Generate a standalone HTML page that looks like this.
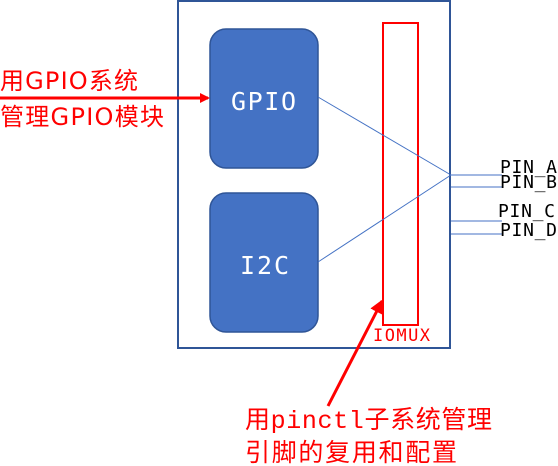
<!DOCTYPE html>
<html><head><meta charset="utf-8"><style>
html,body{margin:0;padding:0;background:#fff;width:558px;height:466px;overflow:hidden}
svg{display:block}
</style></head><body>
<svg width="558" height="466" xmlns="http://www.w3.org/2000/svg">
<defs>
<marker id="ah" markerWidth="10" markerHeight="10" refX="8" refY="5" orient="auto" markerUnits="userSpaceOnUse">
<path d="M0,0 L10,5 L0,10 z" fill="#ff0000"/></marker>
<marker id="ah2" markerWidth="14" markerHeight="14" refX="12" refY="7" orient="auto" markerUnits="userSpaceOnUse">
<path d="M0,0 L14,7 L0,14 z" fill="#ff0000"/></marker>
</defs>
<rect x="178" y="1" width="272" height="347" fill="#fff" stroke="#2F5597" stroke-width="2"/>
<rect x="210" y="29" width="108" height="139" rx="16" fill="#4472C4" stroke="#2F5597" stroke-width="1.5"/>
<rect x="210" y="193" width="108" height="139" rx="16" fill="#4472C4" stroke="#2F5597" stroke-width="1.5"/>
<text x="231" y="110" fill="#fff" font-family="DejaVu Sans Mono, Liberation Mono, monospace" font-size="25" textLength="65">GPIO</text>
<text x="240" y="274" fill="#fff" font-family="DejaVu Sans Mono, Liberation Mono, monospace" font-size="25" textLength="49">I2C</text>
<rect x="383" y="23" width="35" height="302" fill="none" stroke="#ff0000" stroke-width="2"/>
<text x="373" y="341" fill="#ff0000" font-family="DejaVu Sans Mono, Liberation Mono, monospace" font-size="17" textLength="57">IOMUX</text>
<line x1="318" y1="97" x2="451" y2="175" stroke="#4472C4" stroke-width="1"/>
<line x1="318" y1="262" x2="451" y2="175" stroke="#4472C4" stroke-width="1"/>
<line x1="451" y1="175" x2="502" y2="175" stroke="#4472C4"/>
<line x1="451" y1="187" x2="502" y2="187" stroke="#4472C4"/>
<line x1="451" y1="221" x2="502" y2="221" stroke="#4472C4"/>
<line x1="451" y1="234" x2="502" y2="234" stroke="#4472C4"/>
<g font-family="DejaVu Sans Mono, Liberation Mono, monospace" font-size="18" fill="#000">
<text x="500" y="173" textLength="57">PIN_A</text>
<text x="500" y="188" textLength="57">PIN_B</text>
<text x="498" y="217" textLength="57">PIN_C</text>
<text x="500" y="236" textLength="57">PIN_D</text>
</g>
<line x1="0" y1="98" x2="208" y2="98" stroke="#ff0000" stroke-width="3" marker-end="url(#ah)"/>
<g font-family="DejaVu Sans, Noto Sans CJK SC, sans-serif" font-size="24" fill="#ff0000">
<text x="0" y="89" textLength="138">用GPIO系统</text>
<text x="0" y="125" textLength="164">管理GPIO模块</text>
</g>
<line x1="328" y1="406" x2="382" y2="301" stroke="#ff0000" stroke-width="3" marker-end="url(#ah2)"/>
<g font-family="Liberation Mono, Noto Sans CJK SC, monospace" font-size="25" fill="#ff0000">
<text x="245" y="428" textLength="247">用pinctl子系统管理</text>
<text x="245" y="461" textLength="212">引脚的复用和配置</text>
</g>
</svg>
</body></html>
